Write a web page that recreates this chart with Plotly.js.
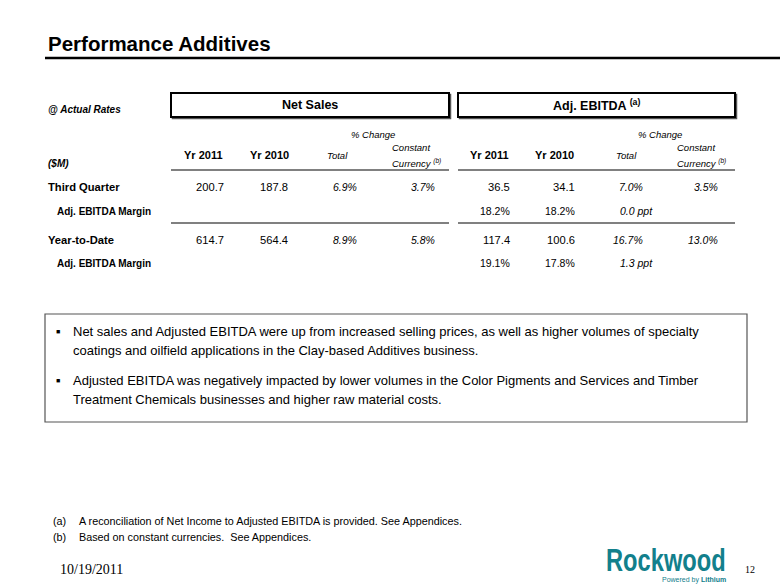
<!DOCTYPE html>
<html><head><meta charset="utf-8">
<script src="https://cdn.plot.ly/plotly-3.0.1.min.js"></script>
<style>html,body{margin:0;padding:0;background:#fff}#chart{width:780px;height:585px}</style>
</head><body><div id="chart"></div>
<script>
// ---- data ----
const rowLabels = ["Third Quarter", "Adj. EBITDA Margin", "Year-to-Date", "Adj. EBITDA Margin"];
const rowIsMain = [true, false, true, false];
const colHeaders = ["Yr 2011", "Yr 2010", "Total", "Constant Currency"];
const netSales2011 = [200.7, null, 614.7, null];
const netSales2010 = [187.8, null, 564.4, null];
const netSalesTotalChg = ["6.9%", null, "8.9%", null];
const netSalesCcyChg = ["3.7%", null, "5.8%", null];
const ebitda2011 = ["36.5", "18.2%", "117.4", "19.1%"];
const ebitda2010 = ["34.1", "18.2%", "100.6", "17.8%"];
const ebitdaTotalChg = ["7.0%", "0.0 ppt", "16.7%", "1.3 ppt"];
const ebitdaCcyChg = ["3.5%", null, "13.0%", null];
const bullets = [
  ["Net sales and Adjusted EBITDA were up from increased selling prices, as well as higher volumes of specialty",
   "coatings and oilfield applications in the Clay-based Additives business."],
  ["Adjusted EBITDA was negatively impacted by lower volumes in the Color Pigments and Services and Timber",
   "Treatment Chemicals businesses and higher raw material costs."]
];
const footnotes = [["(a)", "A reconciliation of Net Income to Adjusted EBITDA is provided. See Appendices."],
                   ["(b)", "Based on constant currencies.  See Appendices."]];

// ---- layout ----
const AR = "Liberation Sans, Arial, sans-serif";
const ann = [];
const shapes = [];
function T(x, y, text, opt) {
  opt = opt || {};
  ann.push({x: x, y: y, xref: "x", yref: "y", text: text, showarrow: false,
    xanchor: opt.xa || "left", yanchor: opt.ya || "middle", align: opt.align || "left",
    font: {family: opt.family || AR, size: opt.size || 11, color: opt.color || "#000"}});
}
// title
T(46, 43, "<b>Performance Additives</b>", {size: 20.5});
shapes.push({type: "line", xref: "x", yref: "y", x0: 45, x1: 780, y0: 58, y1: 58, line: {color: "#000", width: 2.5}});

T(46, 109, "<b><i>@ Actual Rates</i></b>", {size: 10});
T(46, 163, "<b><i>($M)</i></b>", {size: 10});

// header boxes
const groups = [
  {x0: 171, x1: 449, title: "<b>Net Sales</b>", cols: [226, 290, 359, 437], hdr: [203, 269, 337, 392], pct: 373},
  {x0: 458, x1: 735, title: "<b>Adj. EBITDA <sup>(a)</sup></b>", cols: [512, 577, 645, 720], hdr: [489, 554, 626, 677], pct: 660}
];
groups.forEach(g => {
  shapes.push({type: "rect", xref: "x", yref: "y", x0: g.x0 + 1.5, x1: g.x1 + 1.5, y0: 94.5, y1: 118.5, line: {color: "#555", width: 1.5}});
  shapes.push({type: "rect", xref: "x", yref: "y", x0: g.x0, x1: g.x1, y0: 93, y1: 117, fillcolor: "#fff", line: {color: "#000", width: 2}});
  T((g.x0 + g.x1) / 2, 105, g.title, {xa: "center", size: 12.5});
  T(g.pct, 134, "<i>% Change</i>", {xa: "center", size: 9.5});
  T(g.hdr[0], 155, "<b>" + colHeaders[0] + "</b>", {xa: "center", size: 11});
  T(g.hdr[1], 155, "<b>" + colHeaders[1] + "</b>", {xa: "center", size: 11});
  T(g.hdr[2], 155, "<i>" + colHeaders[2] + "</i>", {xa: "center", size: 9.5});
  const cc = colHeaders[3].split(" ");
  T(g.hdr[3] - 2, 147.5, "<i>" + cc[0] + "</i>", {size: 9.5});
  T(g.hdr[3] - 2, 162.5, "<i>" + cc[1] + " <sup>(b)</sup></i>", {size: 9.5});
  shapes.push({type: "line", xref: "x", yref: "y", x0: g.x0, x1: g.x1, y0: 170, y1: 170, line: {color: "#808080", width: 2}});
  shapes.push({type: "line", xref: "x", yref: "y", x0: g.x0, x1: g.x1, y0: 223, y1: 223, line: {color: "#808080", width: 2}});
});

const rowY = [187, 211, 240, 263];
rowLabels.forEach((l, i) => {
  if (rowIsMain[i]) T(46, rowY[i], "<b>" + l + "</b>", {size: 11.2});
  else T(55, rowY[i], "<b>" + l + "</b>", {size: 10});
});

function putCol(vals, x, italic) {
  vals.forEach((v, i) => {
    if (v === null) return;
    const s = (typeof v === "number") ? v.toFixed(1) : v;
    const size = (rowIsMain[i] && !italic) ? 11.2 : 10.5;
    const xx = String(s).indexOf("ppt") >= 0 ? x + 10 : x;
    T(xx, rowY[i], italic ? "<i>" + s + "</i>" : s, {xa: "right", size: size});
  });
}
putCol(netSales2011, groups[0].cols[0], false);
putCol(netSales2010, groups[0].cols[1], false);
putCol(netSalesTotalChg, groups[0].cols[2], true);
putCol(netSalesCcyChg, groups[0].cols[3], true);
putCol(ebitda2011, groups[1].cols[0], false);
putCol(ebitda2010, groups[1].cols[1], false);
putCol(ebitdaTotalChg, groups[1].cols[2], true);
putCol(ebitdaCcyChg, groups[1].cols[3], true);

// commentary box
shapes.push({type: "rect", xref: "x", yref: "y", x0: 45, x1: 747, y0: 314, y1: 422, line: {color: "#555", width: 1.2}});
const bulletY = [331, 380];
bullets.forEach((b, i) => {
  T(54, bulletY[i], "■", {size: 7});
  b.forEach((line, j) => T(71, bulletY[i] + j * 19.5, line, {size: 13}));
});

// footnotes
const fnY = [521, 537];
footnotes.forEach((f, i) => {
  T(51, fnY[i], f[0], {size: 10.8});
  T(77, fnY[i], f[1], {size: 10.8});
});

// footer
T(58, 569, "10/19/2011", {family: "Liberation Serif, Times New Roman, serif", size: 14});
T(743, 569, "12", {family: "Liberation Serif, Times New Roman, serif", size: 10});
T(666, 560, "<b>Rockwood</b>", {xa: "center", size: 32, color: "#12808c"});
T(728, 580, "Powered by <b>Lithium</b>", {xa: "right", size: 7, color: "#12808c"});

const layout = {
  width: 780, height: 585, margin: {l: 0, r: 0, t: 0, b: 0},
  paper_bgcolor: "#fff", plot_bgcolor: "#fff", showlegend: false,
  xaxis: {range: [0, 780], visible: false, fixedrange: true},
  yaxis: {range: [585, 0], visible: false, fixedrange: true},
  annotations: ann, shapes: shapes
};
Plotly.newPlot("chart", [{x: [], y: [], type: "scatter", mode: "markers"}], layout, {staticPlot: true, displayModeBar: false})
  .then(() => {
    document.querySelectorAll("text.annotation-text").forEach(t => {
      if (t.textContent === "Rockwood") {
        const bb = t.getBBox();
        const cx = bb.x + bb.width / 2;
        t.setAttribute("transform", "translate(" + cx + ",0) scale(0.74,1) translate(" + (-cx) + ",0)");
      }
    });
  });
</script></body></html>
